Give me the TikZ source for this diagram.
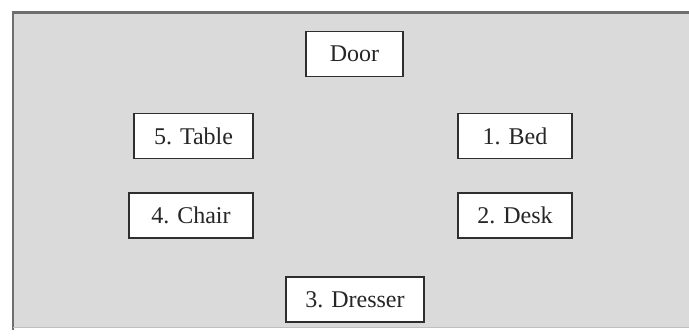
\documentclass[tikz,border=0pt]{standalone}
\usepackage{fontspec}
\setmainfont{Liberation Serif}
\definecolor{bgfill}{HTML}{DADADA}
\definecolor{framecol}{HTML}{6E6E6E}
\definecolor{boxline}{HTML}{2E2E2E}
\tikzset{
  item/.style={draw=boxline, line width=1.5pt, fill=white, rectangle, inner sep=0pt,
    minimum height=45pt, font=\fontsize{24}{28}\selectfont, text=black!85}
}
\begin{document}
\begin{tikzpicture}[x=1pt,y=-1pt]
\useasboundingbox (0,0) rectangle (689,336);
\fill[white] (0,0) rectangle (689,336);
\fill[bgfill] (12,12) rectangle (689,327);
\draw[framecol, line width=2.5pt] (13,330) -- (13,12.5) -- (689,12.5);
\draw[black!25, line width=1pt] (13,328) -- (689,328);
\node[item, minimum width=97pt] (door) at (354.5,54) {Door};
\node[item, minimum width=119pt] (table) at (193.5,136) {5. Table};
\node[item, minimum width=114pt] (bed) at (515,136) {1. Bed};
\node[item, minimum width=124pt] (chair) at (191,215.5) {4. Chair};
\node[item, minimum width=114pt] (desk) at (515,215.5) {2. Desk};
\node[item, minimum width=138pt] (dresser) at (355,299.5) {3. Dresser};
\end{tikzpicture}
\end{document}
